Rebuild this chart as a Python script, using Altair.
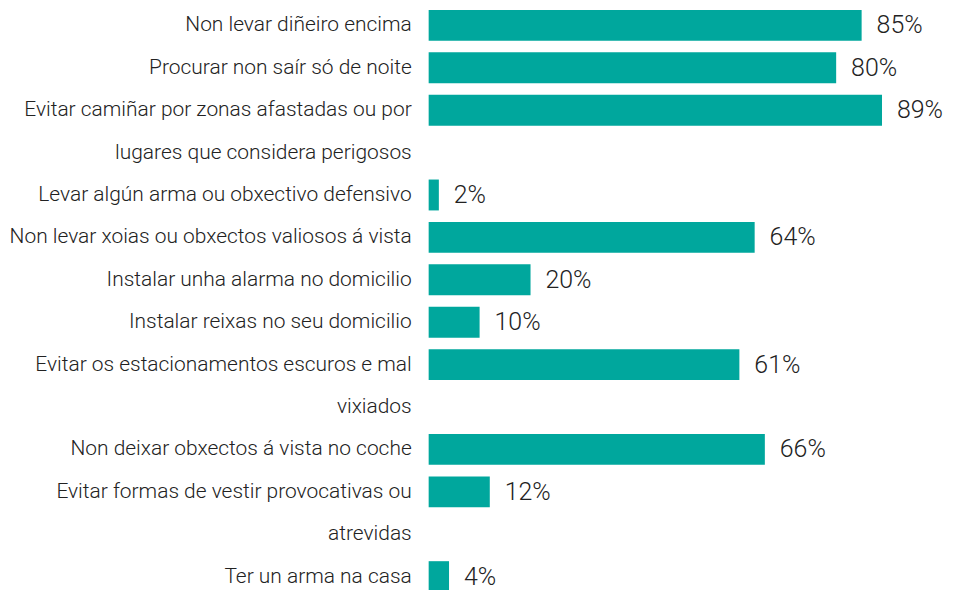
import altair as alt
import pandas as pd

categories = [
    "Non levar diñeiro encima",
    "Procurar non saír só de noite",
    "Evitar camiñar por zonas afastadas ou por\nlugares que considera perigosos",
    "Levar algún arma ou obxectivo defensivo",
    "Non levar xoias ou obxectos valiosos á vista",
    "Instalar unha alarma no domicilio",
    "Instalar reixas no seu domicilio",
    "Evitar os estacionamentos escuros e mal\nvixiados",
    "Non deixar obxectos á vista no coche",
    "Evitar formas de vestir provocativas ou\natrevidas",
    "Ter un arma na casa",
]
values = [85, 80, 89, 2, 64, 20, 10, 61, 66, 12, 4]

rows, lines = [], []
slot = 0
for cat, v in zip(categories, values):
    parts = cat.split("\n")
    rows.append({"slot": slot, "value": v, "label": f"{v}%"})
    for i, p in enumerate(parts):
        lines.append({"slot": slot + i, "text": p})
    slot += len(parts)

bars_df = pd.DataFrame(rows)
lines_df = pd.DataFrame(lines)

FONT = "Roboto"
WEIGHT = 300
FS = 21
TEXT_COLOR = "#222222"
BAR_COLOR = "#00a79d"

H = 582
STEP = 42.54
TOP = 16.5
y_scale = alt.Scale(domain=[(H - TOP) / STEP, -TOP / STEP], nice=False, zero=False, padding=0)
x_scale = alt.Scale(domain=[0, 100], nice=False, padding=0)

base = alt.Chart(bars_df)

bars = base.mark_bar(color=BAR_COLOR, height=31, orient="horizontal").encode(
    x=alt.X("value:Q", scale=x_scale, axis=None),
    x2=alt.datum(0),
    y=alt.Y("slot:Q", scale=y_scale, axis=None),
)

vals = base.mark_text(
    align="left", baseline="middle", dx=15, font=FONT, fontSize=25,
    fontWeight=WEIGHT, color=TEXT_COLOR,
).encode(
    x=alt.X("value:Q", scale=x_scale),
    y=alt.Y("slot:Q", scale=y_scale),
    text="label:N",
)

labels = alt.Chart(lines_df).mark_text(
    align="right", baseline="middle", font=FONT, fontSize=FS,
    fontWeight=WEIGHT, color=TEXT_COLOR,
).encode(
    x=alt.value(-17),
    y=alt.Y("slot:Q", scale=y_scale),
    text="text:N",
)

chart = alt.layer(bars, vals, labels).properties(
    width=511,
    height=H,
    autosize=alt.AutoSizeParams(type="none"),
    padding={"left": 422, "top": 0, "right": 12, "bottom": 0},
).configure(background="white").configure_view(strokeWidth=0)

chart.save("out.html", embed_options={"renderer": "svg", "actions": False})
